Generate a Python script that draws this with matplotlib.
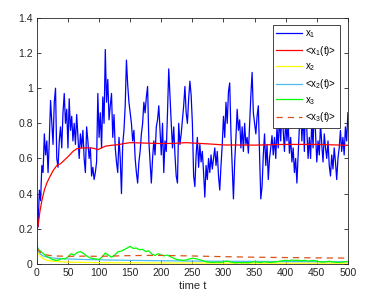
import numpy as np
import matplotlib
matplotlib.use('Agg')
import matplotlib.pyplot as plt

plt.rcParams['font.family'] = ['Liberation Sans', 'DejaVu Sans']
plt.rcParams['mathtext.fontset'] = 'custom'
plt.rcParams['mathtext.rm'] = 'Liberation Sans'

t_x1 = np.arange(0, 501, 2)
x1 = [0.40, 0.21, 0.42, 0.36, 0.56, 0.52, 0.74, 0.62, 0.70, 0.52,
      0.70, 0.93, 0.80, 0.68, 0.92, 1.00, 0.60, 0.55, 0.70, 0.78,
      0.66, 0.86, 0.97, 0.80, 0.88, 0.66, 0.94, 0.76, 0.84, 0.70,
      0.80, 0.68, 0.85, 0.72, 0.60, 0.74, 0.66, 0.76, 0.60, 0.52,
      0.78, 0.70, 0.60, 0.66, 0.50, 0.55, 0.48, 0.52, 0.58, 0.97,
      0.72, 0.86, 0.66, 0.95, 0.80, 1.22, 0.92, 1.05, 0.82, 0.90,
      0.97, 0.72, 0.85, 0.66, 0.58, 0.52, 0.72, 0.60, 0.40, 0.68,
      0.76, 0.90, 1.16, 1.02, 0.92, 0.86, 0.80, 0.70, 0.76, 0.60,
      0.52, 0.46, 0.58, 0.64, 0.74, 0.80, 0.92, 0.86, 0.95, 1.01,
      0.70, 0.58, 0.46, 0.60, 0.70, 0.62, 0.78, 0.82, 0.90, 0.76,
      0.62, 0.80, 0.52, 0.70, 0.64, 0.86, 1.11, 0.95, 0.80, 0.66,
      0.78, 0.62, 0.50, 0.46, 0.80, 0.68, 0.74, 0.82, 0.90, 1.01,
      0.86, 0.80, 0.94, 1.04, 0.96, 0.80, 0.50, 0.44, 0.62, 0.72,
      0.55, 0.68, 0.58, 0.64, 0.52, 0.38, 0.56, 0.48, 0.60, 0.52,
      0.62, 0.54, 0.60, 0.66, 0.56, 0.64, 0.50, 0.42, 0.56, 0.68,
      0.84, 0.72, 0.92, 0.80, 0.98, 1.03, 0.74, 0.55, 0.37, 0.58,
      0.72, 0.88, 0.76, 0.82, 0.66, 0.78, 0.64, 0.80, 0.68, 0.72,
      0.63, 0.80, 0.96, 1.09, 0.86, 0.80, 0.74, 0.84, 0.90, 0.62,
      0.37, 0.44, 0.62, 0.74, 0.56, 0.68, 0.48, 0.60, 0.66, 0.73,
      0.62, 0.72, 0.60, 0.78, 0.66, 0.84, 0.70, 0.92, 0.76, 0.64,
      0.82, 0.70, 0.80, 0.63, 0.72, 0.58, 0.66, 0.52, 0.60, 0.46,
      0.62, 0.78, 0.92, 0.70, 0.86, 0.64, 0.98, 0.76, 0.60, 0.72,
      0.60, 0.82, 0.66, 0.94, 0.74, 0.58, 0.70, 0.62, 0.80, 0.68,
      0.58, 0.74, 0.66, 0.60, 0.70, 0.56, 0.50, 0.62, 0.54, 0.66,
      0.58, 0.48, 0.60, 0.66, 0.76, 0.64, 0.72, 0.62, 0.78, 0.70,
      0.86]

t_m1 = [0, 0.5, 2, 5, 8, 12, 16, 20, 26, 32, 38, 44, 50, 58, 64, 72, 80, 88,
        94, 98, 104, 110, 120, 130, 140, 150, 170, 200, 220, 240, 260, 280,
        300, 350, 400, 450, 500]
m1 = [0.40, 0.20, 0.22, 0.30, 0.36, 0.42, 0.46, 0.49, 0.53, 0.56, 0.57, 0.59,
      0.61, 0.64, 0.655, 0.66, 0.66, 0.66, 0.655, 0.65, 0.66, 0.67, 0.675,
      0.678, 0.685, 0.69, 0.688, 0.685, 0.686, 0.69, 0.686, 0.682, 0.677,
      0.676, 0.68, 0.68, 0.675]

t_x2 = [0, 2, 5, 10, 15, 20, 30, 40, 50, 60, 80, 100, 120, 150, 200, 250,
        300, 350, 400, 450, 500]
x2 = [0.08, 0.06, 0.045, 0.03, 0.022, 0.018, 0.014, 0.012, 0.010, 0.009,
      0.008, 0.007, 0.006, 0.006, 0.005, 0.005, 0.004, 0.004, 0.004, 0.004,
      0.004]

t_m2 = [0, 1, 3, 6, 10, 15, 20, 30, 50, 75, 100, 150, 200, 250, 300, 400, 500]
m2 = [0.15, 0.10, 0.07, 0.055, 0.045, 0.04, 0.036, 0.032, 0.028, 0.025,
      0.023, 0.02, 0.018, 0.016, 0.015, 0.013, 0.012]

# x3 sampled every 5 time units
t_x3 = np.arange(0, 501, 5)
x3 = [0.090, 0.075, 0.06, 0.045, 0.035, 0.025, 0.02, 0.022, 0.03, 0.028,
      0.04, 0.058, 0.05, 0.065, 0.07, 0.06, 0.045, 0.035, 0.03, 0.028,
      0.025, 0.04, 0.062, 0.05, 0.038, 0.05, 0.068, 0.072, 0.08, 0.09,
      0.10, 0.088, 0.09, 0.08, 0.083, 0.07, 0.074, 0.055, 0.048, 0.058,
      0.05, 0.046, 0.05, 0.04, 0.032, 0.025, 0.022, 0.02, 0.022, 0.028,
      0.032, 0.03, 0.025, 0.02, 0.014, 0.01, 0.009, 0.008, 0.01, 0.008,
      0.012, 0.016, 0.012, 0.008, 0.006, 0.008, 0.006, 0.008, 0.006, 0.01,
      0.012, 0.01, 0.008, 0.012, 0.01, 0.008, 0.01, 0.012, 0.015, 0.018,
      0.02, 0.018, 0.022, 0.019, 0.02, 0.018, 0.02, 0.016, 0.018, 0.02,
      0.016, 0.012, 0.01, 0.012, 0.015, 0.012, 0.01, 0.008, 0.01, 0.012,
      0.014]

t_m3 = [0, 3, 6, 10, 15, 20, 30, 50, 75, 100, 125, 150, 175, 200, 250, 300,
        350, 400, 450, 500]
m3 = [0.09, 0.075, 0.065, 0.058, 0.052, 0.048, 0.045, 0.043, 0.044, 0.043,
      0.045, 0.047, 0.048, 0.048, 0.045, 0.041, 0.038, 0.036, 0.034, 0.033]

labels = ['x$_{1}$', '<x$_{1}$(t)>', 'x$_{2}$', '<x$_{2}$(t)>', 'x$_{3}$',
          '<x$_{3}$(t)>']

fig = plt.figure(figsize=(3.84, 3.04), dpi=100)
ax = fig.add_axes([0.096, 0.132, 0.81, 0.809])

ax.plot(t_x1, x1, color='#0000ff', lw=0.9, label=labels[0])
ax.plot(t_m1, m1, color='#ff0000', lw=0.9, label=labels[1])
ax.plot(t_x2, x2, color='#ffff00', lw=0.9, label=labels[2])
ax.plot(t_m2, m2, color='#4dbeee', lw=0.9, label=labels[3])
ax.plot(t_x3, x3, color='#00ff00', lw=0.9, label=labels[4])
ax.plot(t_m3, m3, color='#d95319', lw=0.9, ls=(0, (5, 4)), label=labels[5])

ax.set_xlim(0, 500)
ax.set_ylim(0, 1.4)
ax.set_xticks(np.arange(0, 501, 50))
ax.set_yticks(np.arange(0, 1.41, 0.2))
ax.set_yticklabels(['0', '0.2', '0.4', '0.6', '0.8', '1', '1.2', '1.4'])
ax.tick_params(direction='in', length=3, width=0.6, labelsize=7.5,
               colors='#262626', top=True, right=True, pad=3)
for s in ax.spines.values():
    s.set_color('#262626')
    s.set_linewidth(0.6)
ax.set_xlabel('time t', fontsize=8, color='#262626', labelpad=2)

leg = ax.legend(loc='upper right', bbox_to_anchor=(340 / 384, 1 - 25 / 304),
                bbox_transform=fig.transFigure, borderaxespad=0,
                fontsize=7, frameon=True, fancybox=False, framealpha=1,
                edgecolor='#262626', handlelength=2.7, labelspacing=0.38,
                handletextpad=0.3, borderpad=0.35)
leg.get_frame().set_linewidth(0.6)

fig.savefig('out.png', dpi=100)
